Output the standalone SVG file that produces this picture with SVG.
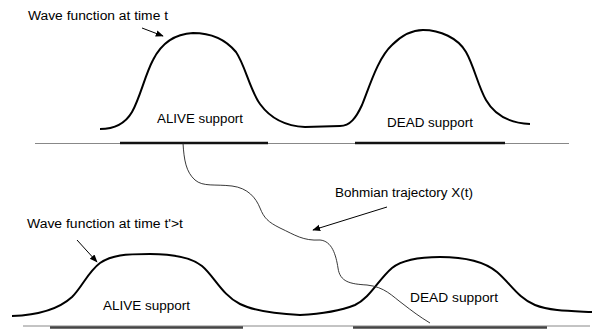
<svg xmlns="http://www.w3.org/2000/svg" width="592" height="330" viewBox="0 0 592 330">
<style>
.lbl{font-family:"Liberation Sans",Arial,sans-serif;font-size:12.5px;fill:#000}
.wave{fill:none;stroke:#000;stroke-width:2}
.axis{stroke:#888;stroke-width:1;fill:none}
.bar{stroke:#111;stroke-width:2.5;fill:none}
.bar2{stroke:#444;stroke-width:2.5;fill:none}
.traj{fill:none;stroke:#222;stroke-width:0.9}
.arr{fill:none;stroke:#000;stroke-width:1;marker-end:url(#ah)}
</style>
<defs>
<marker id="ah" viewBox="0 0 10 10" refX="9" refY="5" markerWidth="8" markerHeight="8" markerUnits="userSpaceOnUse" orient="auto">
<path d="M0,1 L10,5 L0,9 Z" fill="#000"/>
</marker>
</defs>
<rect width="592" height="330" fill="#fff"/>
<g id="axis-top">
<line class="axis" x1="35" y1="143.5" x2="569" y2="143.5"/>
<line class="bar" x1="120" y1="143" x2="268" y2="143"/>
<line class="bar" x1="355" y1="143" x2="505" y2="143"/>
</g>
<g id="axis-bottom">
<line class="axis" x1="23" y1="326" x2="590" y2="326"/>
<line class="bar2" x1="50" y1="327.5" x2="243" y2="327.5"/>
<line class="bar2" x1="353" y1="327.5" x2="547" y2="327.5"/>
</g>
<g id="wave-top">
<path class="wave" d="M100,129 C115,129 125,124 132,112 C140,98 145,75 153,60 C161,44 173,34 193,33 C212,33 226,40 236,52 C245,65 250,90 260,104 C268,115 282,126 305,127 L340,126 C350,126 356,118 362,105 C370,85 378,58 392,45 C402,35 412,30 423,30 C440,30 458,38 466,52 C474,66 478,86 486,100 C494,114 508,123 530,124"/>
<text class="lbl" x="157" y="123" textLength="86" lengthAdjust="spacingAndGlyphs">ALIVE support</text>
<text class="lbl" x="387" y="127" textLength="86" lengthAdjust="spacingAndGlyphs">DEAD support</text>
</g>
<g id="wave-bottom">
<path class="wave" d="M12,316 C40,315 60,308 72,297 C82,287 88,272 100,263 C112,255 125,254 150,254 C175,254 192,258 202,266 C214,276 222,295 240,304 C256,312 280,314 300,315 C320,314 340,311 355,305 C370,298 378,280 392,268 C402,260 420,257 440,257 C465,257 485,262 497,272 C510,283 518,298 535,305 C550,311 570,311 592,312"/>
<text class="lbl" x="103" y="310" textLength="87" lengthAdjust="spacingAndGlyphs">ALIVE support</text>
<text class="lbl" x="410" y="302" textLength="88" lengthAdjust="spacingAndGlyphs">DEAD support</text>
</g>
<g id="label-top">
<text class="lbl" x="28" y="20" textLength="140" lengthAdjust="spacingAndGlyphs">Wave function at time t</text>
</g>
<g id="label-bottom">
<text class="lbl" x="27" y="228" textLength="156" lengthAdjust="spacingAndGlyphs">Wave function at time t'&gt;t</text>
</g>
<g id="label-traj">
<text class="lbl" x="335" y="197" textLength="138" lengthAdjust="spacingAndGlyphs">Bohmian trajectory X(t)</text>
</g>
<g id="connectors">
<path class="traj" d="M183,143 C184,160 186,172 195,180 C203,187 215,184 232,186 C248,188 256,198 260,208 C264,218 268,222 280,228 C295,235 303,241 320,240 C332,241 336,255 338,268 C340,282 350,284 367,285 C385,287 392,296 403,304 C412,311 420,317 430,323"/>
<line class="arr" x1="142" y1="28" x2="163" y2="36"/>
<line class="arr" x1="77" y1="240" x2="97" y2="262"/>
<line class="arr" x1="387" y1="207" x2="313" y2="230"/>
</g>
</svg>
